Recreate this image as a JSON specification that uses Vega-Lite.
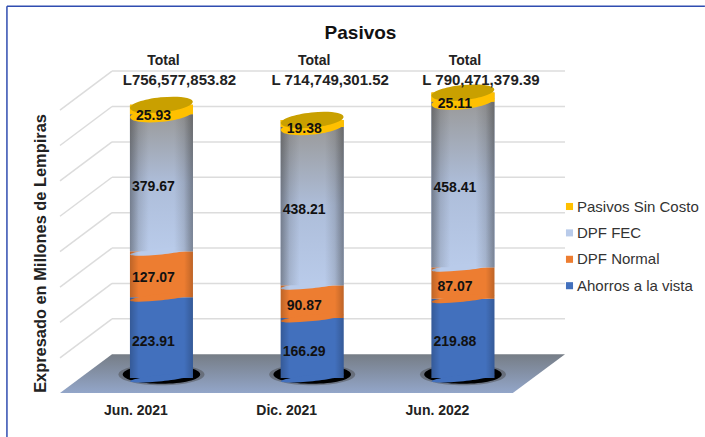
{"$schema":"https://vega.github.io/schema/vega-lite/v6.json","width":505,"height":343,"autosize":"none","padding":{"left":60,"top":50,"right":140,"bottom":44},"background":"white","title":{"text":"Pasivos","font":"Liberation Sans","fontSize":19,"fontWeight":"bold","color":"#111","dx":48,"dy":38,"offset":0,"anchor":"middle"},"config":{"view":{"stroke":null}},"datasets":{"grid":[{"atras":164,"frente":56},{"atras":262,"frente":154},{"atras":360,"frente":252},{"atras":458,"frente":350},{"atras":556,"frente":448},{"atras":654,"frente":546},{"atras":752,"frente":644},{"atras":850,"frente":742}],"piso":[{"profundidad":0.327,"fondo":-41.5,"frente":-41.5},{"profundidad":0.672,"fondo":66,"frente":-41.5},{"profundidad":3.331,"fondo":66,"frente":-41.5},{"profundidad":3.677,"fondo":66,"frente":66}],"pasivos":[{"posicion":1,"periodo":"Jun. 2021","serie":"Ahorros a la vista","orden":1,"valor":223.91,"total":"L756,577,853.82"},{"posicion":1,"periodo":"Jun. 2021","serie":"DPF Normal","orden":2,"valor":127.07,"total":"L756,577,853.82"},{"posicion":1,"periodo":"Jun. 2021","serie":"DPF FEC","orden":3,"valor":379.67,"total":"L756,577,853.82"},{"posicion":1,"periodo":"Jun. 2021","serie":"Pasivos Sin Costo","orden":4,"valor":25.93,"total":"L756,577,853.82"},{"posicion":2,"periodo":"Dic. 2021","serie":"Ahorros a la vista","orden":1,"valor":166.29,"total":"L 714,749,301.52"},{"posicion":2,"periodo":"Dic. 2021","serie":"DPF Normal","orden":2,"valor":90.87,"total":"L 714,749,301.52"},{"posicion":2,"periodo":"Dic. 2021","serie":"DPF FEC","orden":3,"valor":438.21,"total":"L 714,749,301.52"},{"posicion":2,"periodo":"Dic. 2021","serie":"Pasivos Sin Costo","orden":4,"valor":19.38,"total":"L 714,749,301.52"},{"posicion":3,"periodo":"Jun. 2022","serie":"Ahorros a la vista","orden":1,"valor":219.88,"total":"L 790,471,379.39"},{"posicion":3,"periodo":"Jun. 2022","serie":"DPF Normal","orden":2,"valor":87.07,"total":"L 790,471,379.39"},{"posicion":3,"periodo":"Jun. 2022","serie":"DPF FEC","orden":3,"valor":458.41,"total":"L 790,471,379.39"},{"posicion":3,"periodo":"Jun. 2022","serie":"Pasivos Sin Costo","orden":4,"valor":25.11,"total":"L 790,471,379.39"}]},"layer":[{"data":{"name":"grid"},"mark":{"type":"rule","stroke":"#dcdcdc","strokeWidth":1.5},"encoding":{"x":{"datum":0.672,"type":"quantitative","scale":{"domain":[0.327,3.677],"nice":false,"padding":0},"axis":{"title":null,"values":[1,2,3],"labelExpr":"datum.value==1?'Jun. 2021':datum.value==2?'Dic. 2021':'Jun. 2022'","labelOffset":-26,"labelPadding":10,"labelFont":"Liberation Sans","labelFontSize":14,"labelFontWeight":"bold","labelColor":"#222","ticks":false,"domain":false,"grid":false}},"x2":{"datum":3.677},"y":{"field":"atras","type":"quantitative","scale":{"domain":[-41.5,908.5],"nice":false},"title":"Expresado en Millones de Lempiras","axis":{"labels":false,"ticks":false,"domain":false,"grid":false,"titleFont":"Liberation Sans","titleFontSize":16.4,"titleFontWeight":"bold","titleColor":"#222","titleX":-12,"titleY":203}}}},{"data":{"name":"grid"},"mark":{"type":"rule","stroke":"#dcdcdc","strokeWidth":1.5},"encoding":{"x":{"datum":0.327,"type":"quantitative","scale":{"domain":[0.327,3.677],"nice":false,"padding":0},"title":null},"x2":{"datum":0.672},"y":{"field":"frente","type":"quantitative","scale":{"domain":[-41.5,908.5],"nice":false},"title":"Expresado en Millones de Lempiras"},"y2":{"field":"atras"}}},{"data":{"name":"piso"},"mark":{"type":"area","color":{"gradient":"linear","x1":0,"x2":0,"y1":0,"y2":1,"stops":[{"offset":0,"color":"#767d86"},{"offset":1,"color":"#93a6c9"}]}},"encoding":{"x":{"field":"profundidad","type":"quantitative","scale":{"domain":[0.327,3.677],"nice":false,"padding":0},"title":null},"y":{"field":"fondo","type":"quantitative","scale":{"domain":[-41.5,908.5],"nice":false},"title":"Expresado en Millones de Lempiras"},"y2":{"field":"frente"}}},{"data":{"name":"pasivos"},"transform":[{"filter":"datum.orden==1"}],"mark":{"type":"point","filled":true,"opacity":0.45,"color":"#444","size":7400,"shape":"M-1,0A1,0.25,0,1,1,1,0A1,0.25,0,1,1,-1,0Z"},"encoding":{"x":{"field":"posicion","type":"quantitative","scale":{"domain":[0.327,3.677],"nice":false,"padding":0},"title":null},"y":{"datum":10,"type":"quantitative","scale":{"domain":[-41.5,908.5],"nice":false},"title":"Expresado en Millones de Lempiras"}}},{"data":{"name":"pasivos"},"transform":[{"filter":"datum.orden==1"}],"mark":{"type":"point","filled":true,"opacity":1,"color":"#000","size":6000,"shape":"M-1,0A1,0.24,0,1,1,1,0A1,0.24,0,1,1,-1,0Z"},"encoding":{"x":{"field":"posicion","type":"quantitative","scale":{"domain":[0.327,3.677],"nice":false,"padding":0},"title":null},"y":{"datum":10,"type":"quantitative","scale":{"domain":[-41.5,908.5],"nice":false},"title":"Expresado en Millones de Lempiras"}}},{"data":{"name":"pasivos"},"transform":[{"stack":"valor","groupby":["posicion"],"sort":[{"field":"orden","order":"ascending"}],"as":["inicio","fin"]}],"encoding":{"x":{"field":"posicion","type":"quantitative","scale":{"domain":[0.327,3.677],"nice":false,"padding":0},"title":null}},"layer":[{"mark":{"type":"bar","size":63},"encoding":{"y":{"field":"inicio","type":"quantitative","scale":{"domain":[-41.5,908.5],"nice":false},"title":"Expresado en Millones de Lempiras"},"y2":{"field":"fin"},"color":{"field":"serie","type":"nominal","scale":{"domain":["Pasivos Sin Costo","DPF FEC","DPF Normal","Ahorros a la vista"],"range":["#ffc000","#b9cbea","#ed7d31","#4270bd"]},"legend":{"title":null,"orient":"none","legendX":502,"legendY":149,"symbolType":"square","symbolSize":50,"labelFont":"Liberation Sans","labelFontSize":15,"labelColor":"#333","labelOffset":0,"rowPadding":10.4}}}},{"transform":[{"filter":"datum.orden==3"}],"mark":{"type":"bar","size":63,"color":{"gradient":"linear","x1":0,"x2":0,"y1":0,"y2":1,"stops":[{"offset":0,"color":"#9a9a9a"},{"offset":0.5,"color":"#adbdd9"},{"offset":1,"color":"#b9cbea"}]}},"encoding":{"y":{"field":"inicio","type":"quantitative","scale":{"domain":[-41.5,908.5],"nice":false},"title":"Expresado en Millones de Lempiras"},"y2":{"field":"fin"}}},{"mark":{"type":"point","filled":true,"opacity":1,"size":3969,"shape":"M-0.995,0.105A1,0.1,-6,1,1,0.995,-0.105A1,0.1,-6,1,1,-0.995,0.105Z"},"encoding":{"y":{"field":"inicio","type":"quantitative","scale":{"domain":[-41.5,908.5],"nice":false},"title":"Expresado en Millones de Lempiras"},"color":{"field":"serie","type":"nominal","legend":null}}},{"mark":{"type":"bar","size":63,"color":{"gradient":"linear","x1":0,"x2":1,"y1":0,"y2":0,"stops":[{"offset":0,"color":"rgba(0,0,0,0.2)"},{"offset":0.14,"color":"rgba(0,0,0,0)"},{"offset":0.86,"color":"rgba(0,0,0,0)"},{"offset":1,"color":"rgba(0,0,0,0.2)"}]}},"encoding":{"y":{"field":"inicio","type":"quantitative","scale":{"domain":[-41.5,908.5],"nice":false},"title":"Expresado en Millones de Lempiras"},"y2":{"field":"fin"}}},{"transform":[{"filter":"datum.orden==3"}],"mark":{"type":"bar","size":63,"color":{"gradient":"linear","x1":0,"x2":1,"y1":0,"y2":0,"stops":[{"offset":0,"color":"rgba(60,60,60,0.3)"},{"offset":0.3,"color":"rgba(60,60,60,0)"},{"offset":0.7,"color":"rgba(60,60,60,0)"},{"offset":1,"color":"rgba(60,60,60,0.3)"}]}},"encoding":{"y":{"field":"inicio","type":"quantitative","scale":{"domain":[-41.5,908.5],"nice":false},"title":"Expresado en Millones de Lempiras"},"y2":{"field":"fin"}}},{"transform":[{"filter":"datum.orden==4"}],"mark":{"type":"point","filled":true,"opacity":1,"size":3969,"color":"#ffc000","shape":"M-0.995,0.105A1,0.24,-6,1,1,0.995,-0.105A1,0.24,-6,1,1,-0.995,0.105Z"},"encoding":{"y":{"field":"inicio","type":"quantitative","scale":{"domain":[-41.5,908.5],"nice":false},"title":"Expresado en Millones de Lempiras"}}},{"transform":[{"filter":"datum.orden==4"}],"mark":{"type":"bar","size":63,"color":"#ffc000"},"encoding":{"y":{"field":"inicio","type":"quantitative","scale":{"domain":[-41.5,908.5],"nice":false},"title":"Expresado en Millones de Lempiras"},"y2":{"field":"fin"}}},{"transform":[{"filter":"datum.orden==4"}],"mark":{"type":"point","filled":true,"opacity":1,"size":3969,"color":"#c9a000","shape":"M-0.995,0.105A1,0.24,-6,1,1,0.995,-0.105A1,0.24,-6,1,1,-0.995,0.105Z"},"encoding":{"y":{"field":"fin","type":"quantitative","scale":{"domain":[-41.5,908.5],"nice":false},"title":"Expresado en Millones de Lempiras"}}},{"transform":[{"filter":"datum.orden==4"}],"mark":{"type":"text","font":"Liberation Sans","fontSize":14,"fontWeight":"bold","color":"#111","dx":-8,"dy":2},"encoding":{"y":{"field":"inicio","type":"quantitative","scale":{"domain":[-41.5,908.5],"nice":false},"title":"Expresado en Millones de Lempiras"},"text":{"field":"valor","type":"quantitative","format":".2f"}}}]},{"data":{"name":"pasivos"},"transform":[{"filter":"datum.orden<4"}],"mark":{"type":"text","font":"Liberation Sans","fontSize":14,"fontWeight":"bold","color":"#111","dx":-8,"dy":4},"encoding":{"x":{"field":"posicion","type":"quantitative","scale":{"domain":[0.327,3.677],"nice":false,"padding":0},"title":null},"y":{"field":"valor","type":"quantitative","stack":"zero","bandPosition":0.5,"scale":{"domain":[-41.5,908.5],"nice":false},"title":"Expresado en Millones de Lempiras"},"order":{"field":"orden"},"detail":{"field":"serie"},"text":{"field":"valor","type":"quantitative","format":".2f"}}},{"data":{"name":"pasivos"},"transform":[{"filter":"datum.orden==1"}],"mark":{"type":"text","font":"Liberation Sans","fontSize":14,"fontWeight":"bold","color":"#222","dx":2},"encoding":{"x":{"field":"posicion","type":"quantitative","scale":{"domain":[0.327,3.677],"nice":false,"padding":0},"title":null},"y":{"datum":878,"type":"quantitative","scale":{"domain":[-41.5,908.5],"nice":false},"title":"Expresado en Millones de Lempiras"},"text":{"value":"Total"}}},{"data":{"name":"pasivos"},"transform":[{"filter":"datum.orden==1"}],"mark":{"type":"text","font":"Liberation Sans","fontSize":15,"fontWeight":"bold","color":"#222","dx":18},"encoding":{"x":{"field":"posicion","type":"quantitative","scale":{"domain":[0.327,3.677],"nice":false,"padding":0},"title":null},"y":{"datum":825,"type":"quantitative","scale":{"domain":[-41.5,908.5],"nice":false},"title":"Expresado en Millones de Lempiras"},"text":{"field":"total","type":"nominal"}}},{"data":{"values":[{"borde":"superior"}]},"mark":{"type":"rule","stroke":"#2f4db0","strokeWidth":1.5},"encoding":{"x":{"datum":-0.025,"type":"quantitative","scale":{"domain":[0.327,3.677],"nice":false,"padding":0},"title":null},"x2":{"datum":4.605},"y":{"datum":1030,"type":"quantitative","scale":{"domain":[-41.5,908.5],"nice":false},"title":"Expresado en Millones de Lempiras"}}},{"data":{"values":[{"borde":"izquierdo"}]},"mark":{"type":"rule","stroke":"#2f4db0","strokeWidth":1.5},"encoding":{"x":{"datum":-0.025,"type":"quantitative","scale":{"domain":[0.327,3.677],"nice":false,"padding":0},"title":null},"y":{"datum":1030,"type":"quantitative","scale":{"domain":[-41.5,908.5],"nice":false},"title":"Expresado en Millones de Lempiras"},"y2":{"datum":-165}}}]}
